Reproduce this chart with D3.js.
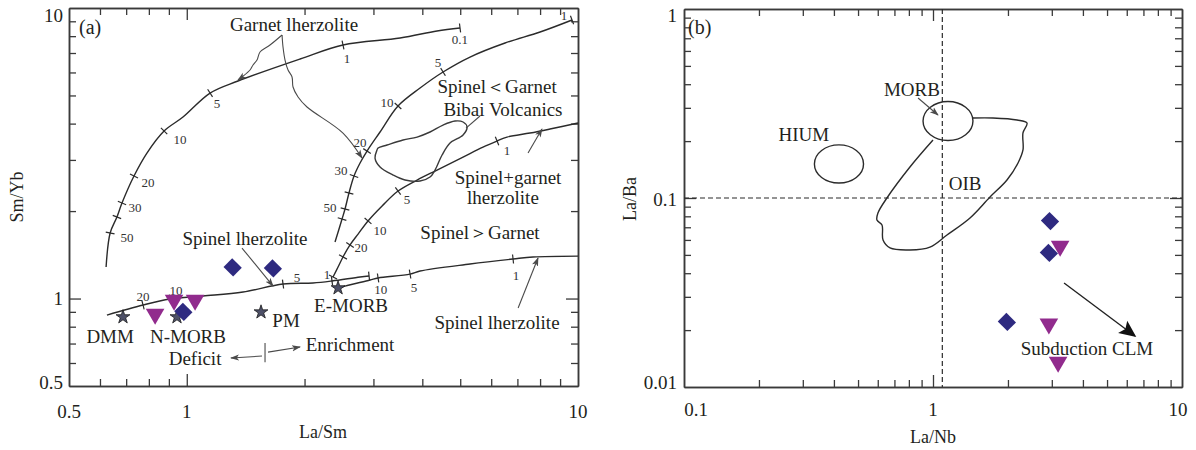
<!DOCTYPE html>
<html>
<head>
<meta charset="utf-8">
<script src="https://cdn.jsdelivr.net/npm/d3@7"></script>
<style>
  body { margin: 0; background: #fff; }
  text { font-family: "Liberation Serif", "DejaVu Serif", serif; fill: #231f20; }
</style>
</head>
<body>
<svg id="chart" width="1196" height="450"></svg>
<script>
// ---- panel (a): La/Sm vs Sm/Yb ----
const diamondsA = [[1.31, 1.28], [1.66, 1.27], [0.98, 0.90]]
const trianglesA = [[0.83, 0.884], [0.928, 0.988], [1.05, 0.988]]
const refStars = [['DMM', 0.687, 0.864], ['N-MORB', 0.944, 0.864], ['PM', 1.548, 0.898], ['E-MORB', 2.436, 1.087]]

// melting curves
const garnetCurve = [[0.622, 1.284], [0.637, 1.681], [0.663, 1.908], [0.683, 2.132], [0.733, 2.641], [0.791, 3.168],
  [0.875, 3.773], [0.978, 4.215], [1.147, 5.097], [1.352, 5.608], [1.948, 6.674], [2.508, 7.458], [3.509, 7.883],
  [4.362, 8.334], [4.994, 8.535]]
const garnetTicks = [[0.637, 1.681], [0.663, 1.908], [0.683, 2.132], [0.733, 2.641], [0.875, 3.773], [1.147, 5.097],
  [2.508, 7.458], [4.994, 8.535]]
const sgCurve = [[2.393, 1.565], [2.494, 1.878], [2.538, 2.033], [2.598, 2.308], [2.676, 2.641], [2.773, 2.927],
  [2.889, 3.218], [3.119, 3.743], [3.467, 4.60], [3.947, 5.304], [4.519, 6.023], [5.297, 6.781], [6.51, 7.578],
  [8.0, 8.268], [9.656, 9.094]]
const sgTicks = [[2.494, 1.878], [2.538, 2.033], [2.598, 2.308], [2.676, 2.641], [2.889, 3.218], [3.467, 4.60],
  [4.519, 6.023], [9.656, 9.094]]
const mixCurve = [[2.365, 1.186], [2.436, 1.284], [2.508, 1.390], [2.614, 1.529], [2.741, 1.667], [2.906, 1.849],
  [3.157, 2.082], [3.467, 2.344], [3.879, 2.558], [4.362, 2.769], [5.084, 3.07], [5.718, 3.322], [6.21, 3.485],
  [6.585, 3.596], [7.54, 3.712], [8.48, 3.832], [10, 4.019]]
const mixTicks = [[2.365, 1.186], [2.508, 1.390], [2.614, 1.529], [2.906, 1.849], [3.467, 2.344], [6.21, 3.485]]
const spinelLeft = [[0.625, 0.877], [0.773, 0.950], [0.906, 0.996], [1.100, 1.020], [1.393, 1.053], [1.762, 1.122],
  [2.102, 1.131], [2.351, 1.149], [2.773, 1.186], [2.924, 1.195]]
const spinelLeftTicks = [[0.773, 0.950], [0.906, 0.996], [1.762, 1.122], [2.351, 1.149], [2.924, 1.195]]
const spinelRight = [[2.436, 1.087], [2.538, 1.104], [2.941, 1.158], [3.083, 1.177], [3.722, 1.214], [3.947, 1.244],
  [5.297, 1.315], [6.823, 1.368], [7.675, 1.390], [10, 1.40]]
const spinelRightTicks = [[3.083, 1.177], [3.722, 1.214], [6.823, 1.368]]
const bibai = [[3.064, 3.245], [3.028, 3.045], [3.119, 2.836], [3.367, 2.661], [3.613, 2.558], [3.947, 2.538],
  [4.186, 2.619], [4.311, 2.769], [4.493, 3.119], [4.709, 3.43], [5.084, 3.654], [5.205, 3.894], [5.084, 4.052],
  [4.85, 4.083], [4.519, 3.955], [4.186, 3.743], [3.879, 3.596], [3.571, 3.513], [3.25, 3.376], [3.083, 3.297]]

const curveLabelsA = [['5', 1.195, 4.71], ['10', 0.961, 3.513], ['20', 0.796, 2.518], ['30', 0.737, 2.065],
  ['50', 0.703, 1.628], ['1', 2.568, 6.728], ['0.1', 4.99, 7.82],
  ['50', 2.324, 2.065], ['30', 2.48, 2.748], ['20', 2.773, 3.457], ['10', 3.25, 4.747], ['5', 4.387, 6.467], ['1', 9.21, 9.46],
  ['1', 2.283, 1.214], ['20', 2.79, 1.504], ['10', 3.119, 1.721], ['5', 3.656, 2.184], ['1', 6.585, 3.245],
  ['20', 0.773, 1.02], ['10', 0.939, 1.07], ['5', 1.913, 1.186], ['10', 3.13, 1.075], ['5', 3.81, 1.092], ['1', 6.945, 1.205]]
const textLabelsA = [['Garnet lherzolite', 1.88, 8.74], ['Spinel＜Garnet', 6.21, 5.347], ['Bibai Volcanics', 6.43, 4.456],
  ['Spinel+garnet', 6.625, 2.619], ['lherzolite', 6.43, 2.236], ['Spinel＞Garnet', 5.617, 1.694],
  ['Spinel lherzolite', 1.409, 1.615], ['Spinel lherzolite', 6.21, 0.830], ['DMM', 0.637, 0.743], ['N-MORB', 1.007, 0.743],
  ['PM', 1.794, 0.843], ['E-MORB', 2.63, 0.945], ['Deficit', 1.05, 0.624], ['Enrichment', 2.614, 0.692]]
// annotation leaders [points, arrowhead]
const leadersA = [
  [[[1.752, 8.074], [1.632, 7.458], [1.539, 7.055], [1.512, 6.622], [1.477, 6.366], [1.451, 6.118], [1.384, 5.788], [1.352, 5.652]], true],
  [[[1.752, 8.074], [1.762, 7.34], [1.783, 6.622], [1.815, 6.118], [1.858, 5.788], [1.869, 5.347], [1.925, 4.938], [2.029, 4.562], [2.508, 3.712], [2.805, 3.045]], true],
  [[[5.617, 4.248], [5.174, 3.862]], false],
  [[[7.452, 3.168], [8.09, 3.832]], true],
  [[[1.384, 1.492], [1.662, 1.104]], true],
  [[[7.03, 0.9275], [7.903, 1.379]], true],
  [[[1.557, 0.634], [1.297, 0.624]], true],
  [[[1.613, 0.654], [1.948, 0.681]], true],
  [[[1.585, 0.703], [1.585, 0.604]], false]
]

// ---- panel (b): La/Nb vs La/Ba ----
const diamondsB = [[2.95, 0.0755], [2.92, 0.0512], [1.98, 0.0221]]
const trianglesB = [[3.24, 0.0557], [2.92, 0.0216], [3.18, 0.01355]]
const hiumBox = [[0.334, 0.120], [0.526, 0.191]]
const morbBox = [[0.912, 0.2014], [1.447, 0.324]]
const oib = [[1.0, 0.2027], [0.808, 0.1459], [0.653, 0.1], [0.601, 0.0833], [0.5955, 0.0765], [0.624, 0.0720],
  [0.630, 0.0599], [0.672, 0.0544], [0.808, 0.0531], [0.972, 0.0550], [1.138, 0.0637], [1.408, 0.0784],
  [1.694, 0.1012], [1.982, 0.1245], [2.195, 0.1532], [2.298, 0.1795], [2.298, 0.2208], [2.385, 0.2493],
  [2.175, 0.2587], [1.742, 0.2651], [1.447, 0.2651]]
const laNbRef = 1.09, laBaRef = 0.1
const textLabelsB = [['HIUM', 0.303, 0.218], ['MORB', 0.823, 0.377], ['OIB', 1.345, 0.120], ['Subduction CLM', 4.155, 0.0159]]
const morbArrow = [[0.871, 0.338], [1.047, 0.2749]]
const clmArrow = [[3.36, 0.0355], [6.47, 0.0186]]

const svg = d3.select('#chart')
const xa = d3.scaleLog().domain([0.5, 10]).range([69, 578])
const ya = d3.scaleLog().domain([0.5, 10]).range([386, 8])
const xb = d3.scaleLog().domain([0.1, 10]).range([684, 1182])
const yb = d3.scaleLog().domain([0.01, 1]).range([387, 9])

const ink = '#2b2b2b'
const defs = svg.append('defs')
defs.append('marker').attr('id', 'head').attr('viewBox', '0 -5 10 10')
  .attr('refX', 9).attr('refY', 0).attr('markerWidth', 9).attr('markerHeight', 9)
  .attr('markerUnits', 'userSpaceOnUse').attr('orient', 'auto')
  .append('path').attr('d', 'M0,-3.5L10,0L0,3.5L2.5,0Z').attr('fill', '#4a4a4a')
defs.append('marker').attr('id', 'bighead').attr('viewBox', '0 -5 10 10')
  .attr('refX', 9).attr('refY', 0).attr('markerWidth', 17).attr('markerHeight', 17)
  .attr('markerUnits', 'userSpaceOnUse').attr('orient', 'auto')
  .append('path').attr('d', 'M0,-4.5L10,0L0,4.5L2,0Z').attr('fill', '#111')

function drawFrame(x, y, xMinor, xMajor, yMinor, yMajor) {
  const [left, right] = x.range(), [bottom, top] = y.range()
  const g = svg.append('g')
  const put = (axis, tx, ty, vals, len) => g.append('g')
    .attr('transform', `translate(${tx},${ty})`)
    .call(axis.tickValues(vals).tickSize(-len).tickSizeOuter(0).tickFormat(''))
  put(d3.axisBottom(x), 0, bottom, xMinor, 7)
  put(d3.axisBottom(x), 0, bottom, xMajor, 12)
  put(d3.axisTop(x), 0, top, xMinor, 7)
  put(d3.axisTop(x), 0, top, xMajor, 12)
  put(d3.axisLeft(y), left, 0, yMinor, 7)
  put(d3.axisLeft(y), left, 0, yMajor, 12)
  put(d3.axisRight(y), right, 0, yMinor, 7)
  put(d3.axisRight(y), right, 0, yMajor, 12)
  g.selectAll('path.domain').attr('stroke', '#3a3a3a').attr('stroke-width', 1.5)
  g.selectAll('.tick line').attr('stroke', '#3a3a3a').attr('stroke-width', 1.3)
}

const minorA = [0.6, 0.7, 0.8, 0.9, 2, 3, 4, 5, 6, 7, 8, 9]
drawFrame(xa, ya, minorA, [1], minorA, [1])
const minorBx = [0.2, 0.3, 0.4, 0.5, 0.6, 0.7, 0.8, 0.9, 2, 3, 4, 5, 6, 7, 8, 9]
const minorBy = [0.02, 0.03, 0.04, 0.05, 0.06, 0.07, 0.08, 0.09, 0.2, 0.3, 0.4, 0.5, 0.6, 0.7, 0.8, 0.9]
drawFrame(xb, yb, minorBx, [1], minorBy, [0.1])

// tick labels
function tickLabels(list, anchor) {
  svg.append('g').selectAll('text').data(list).join('text')
    .attr('x', d => d[1]).attr('y', d => d[2])
    .attr('text-anchor', anchor).attr('dominant-baseline', 'central')
    .attr('font-size', 19).text(d => d[0])
}
tickLabels([['0.5', xa(0.5), 411], ['1', xa(1), 411], ['10', xa(10), 411]], 'middle')
tickLabels([['10', 63, ya(10) + 7], ['1', 63, ya(1)], ['0.5', 63, ya(0.5) - 4]], 'end')
tickLabels([['0.1', xb(0.1) + 12, 409], ['1', xb(1), 409], ['10', xb(10) - 4, 409]], 'middle')
tickLabels([['1', 677, yb(1) + 6], ['0.1', 677, yb(0.1) + 1], ['0.01', 677, yb(0.01) - 5]], 'end')

// axis titles
svg.append('text').attr('x', 323).attr('y', 438).attr('text-anchor', 'middle').attr('font-size', 18).text('La/Sm')
svg.append('text').attr('transform', 'translate(23,197)rotate(-90)').attr('text-anchor', 'middle').attr('font-size', 18).text('Sm/Yb')
svg.append('text').attr('x', 933).attr('y', 443).attr('text-anchor', 'middle').attr('font-size', 18).text('La/Nb')
svg.append('text').attr('transform', 'translate(636,199)rotate(-90)').attr('text-anchor', 'middle').attr('font-size', 18).text('La/Ba')
svg.append('text').attr('x', 79).attr('y', 34).attr('font-size', 20).text('(a)')
svg.append('text').attr('x', 688).attr('y', 34).attr('font-size', 20).text('(b)')

// ---- panel (a) drawing ----
const ga = svg.append('g')
const lineA = d3.line().x(d => xa(d[0])).y(d => ya(d[1])).curve(d3.curveCatmullRom.alpha(0.5))

function curveWithTicks(pts, ticks) {
  ga.append('path').datum(pts).attr('d', lineA)
    .attr('fill', 'none').attr('stroke', ink).attr('stroke-width', 1.4)
  const px = pts.map(d => [xa(d[0]), ya(d[1])])
  ticks.forEach(t => {
    const p = [xa(t[0]), ya(t[1])]
    let best = 0
    px.forEach((q, i) => { if (Math.hypot(q[0] - p[0], q[1] - p[1]) < Math.hypot(px[best][0] - p[0], px[best][1] - p[1])) best = i })
    const a = px[Math.max(best - 1, 0)], b = px[Math.min(best + 1, px.length - 1)]
    const len = Math.hypot(b[0] - a[0], b[1] - a[1])
    const nx = -(b[1] - a[1]) / len * 4.5, ny = (b[0] - a[0]) / len * 4.5
    ga.append('line').attr('x1', p[0] - nx).attr('y1', p[1] - ny).attr('x2', p[0] + nx).attr('y2', p[1] + ny)
      .attr('stroke', ink).attr('stroke-width', 1.2)
  })
}
curveWithTicks(garnetCurve, garnetTicks)
curveWithTicks(sgCurve, sgTicks)
curveWithTicks(mixCurve, mixTicks)
curveWithTicks(spinelLeft, spinelLeftTicks)
curveWithTicks(spinelRight, spinelRightTicks)

ga.append('path').datum(bibai)
  .attr('d', d3.line().x(d => xa(d[0])).y(d => ya(d[1])).curve(d3.curveCatmullRomClosed.alpha(0.5)))
  .attr('fill', 'none').attr('stroke', '#3a3a3a').attr('stroke-width', 1.4)

const leaderLine = d3.line().x(d => xa(d[0])).y(d => ya(d[1])).curve(d3.curveCatmullRom.alpha(0.5))
ga.selectAll('path.leader').data(leadersA).join('path').attr('class', 'leader')
  .attr('d', d => leaderLine(d[0]))
  .attr('fill', 'none').attr('stroke', '#4a4a4a').attr('stroke-width', 1.1)
  .attr('marker-end', d => d[1] ? 'url(#head)' : null)

ga.selectAll('text.cl').data(curveLabelsA).join('text').attr('class', 'cl')
  .attr('x', d => xa(d[1])).attr('y', d => ya(d[2]))
  .attr('text-anchor', 'middle').attr('dominant-baseline', 'central')
  .attr('font-size', 13).style('fill', '#333').text(d => d[0])

ga.selectAll('text.tl').data(textLabelsA).join('text').attr('class', 'tl')
  .attr('x', d => xa(d[1])).attr('y', d => ya(d[2]))
  .attr('text-anchor', 'middle').attr('dominant-baseline', 'central')
  .attr('font-size', 19).text(d => d[0])

const star = d3.symbol(d3.symbolStar, 60)
ga.selectAll('path.star').data(refStars).join('path').attr('class', 'star')
  .attr('d', star).attr('transform', d => `translate(${xa(d[1])},${ya(d[2])})`)
  .attr('fill', '#4d5068').attr('stroke', '#1a1a1a').attr('stroke-width', 0.8)

const tri = d3.symbol(d3.symbolTriangle, 150)
const dia = d3.symbol(d3.symbolSquare, 185)
const triColor = '#912b8d', diaColor = '#2e2a80'
ga.selectAll('path.tri').data(trianglesA).join('path').attr('class', 'tri')
  .attr('d', tri).attr('transform', d => `translate(${xa(d[0])},${ya(d[1])})rotate(180)`).attr('fill', triColor)
ga.selectAll('path.dia').data(diamondsA).join('path').attr('class', 'dia')
  .attr('d', dia).attr('transform', d => `translate(${xa(d[0])},${ya(d[1])})rotate(45)scale(1,0.9)`).attr('fill', diaColor)

// ---- panel (b) drawing ----
const gb = svg.append('g')
gb.append('line').attr('x1', xb(0.1)).attr('x2', xb(10)).attr('y1', yb(laBaRef)).attr('y2', yb(laBaRef))
  .attr('stroke', '#2b2b2b').attr('stroke-width', 1.2).attr('stroke-dasharray', '5,3')
gb.append('line').attr('x1', xb(laNbRef)).attr('x2', xb(laNbRef)).attr('y1', yb(1)).attr('y2', yb(0.01))
  .attr('stroke', '#2b2b2b').attr('stroke-width', 1.2).attr('stroke-dasharray', '5,3')

function ellipse(box) {
  const x0 = xb(box[0][0]), x1 = xb(box[1][0]), y0 = yb(box[0][1]), y1 = yb(box[1][1])
  gb.append('ellipse').attr('cx', (x0 + x1) / 2).attr('cy', (y0 + y1) / 2)
    .attr('rx', Math.abs(x1 - x0) / 2).attr('ry', Math.abs(y1 - y0) / 2)
    .attr('fill', 'none').attr('stroke', ink).attr('stroke-width', 1.4)
}
ellipse(hiumBox)
ellipse(morbBox)
gb.append('path').datum(oib)
  .attr('d', d3.line().x(d => xb(d[0])).y(d => yb(d[1])).curve(d3.curveCatmullRom.alpha(0.5)))
  .attr('fill', 'none').attr('stroke', ink).attr('stroke-width', 1.4)

const lineB = d3.line().x(d => xb(d[0])).y(d => yb(d[1]))
gb.append('path').datum(morbArrow).attr('d', lineB).attr('stroke', '#4a4a4a').attr('stroke-width', 1.1)
  .attr('marker-end', 'url(#head)')
gb.append('path').datum(clmArrow).attr('d', lineB).attr('stroke', '#222').attr('stroke-width', 1.4)
  .attr('marker-end', 'url(#bighead)')

gb.selectAll('text.tl').data(textLabelsB).join('text').attr('class', 'tl')
  .attr('x', d => xb(d[1])).attr('y', d => yb(d[2]))
  .attr('text-anchor', 'middle').attr('dominant-baseline', 'central')
  .attr('font-size', 19).text(d => d[0])

gb.selectAll('path.tri').data(trianglesB).join('path').attr('class', 'tri')
  .attr('d', tri).attr('transform', d => `translate(${xb(d[0])},${yb(d[1])})rotate(180)`).attr('fill', triColor)
gb.selectAll('path.dia').data(diamondsB).join('path').attr('class', 'dia')
  .attr('d', dia).attr('transform', d => `translate(${xb(d[0])},${yb(d[1])})rotate(45)scale(1,0.9)`).attr('fill', diaColor)
</script>
</body>
</html>
